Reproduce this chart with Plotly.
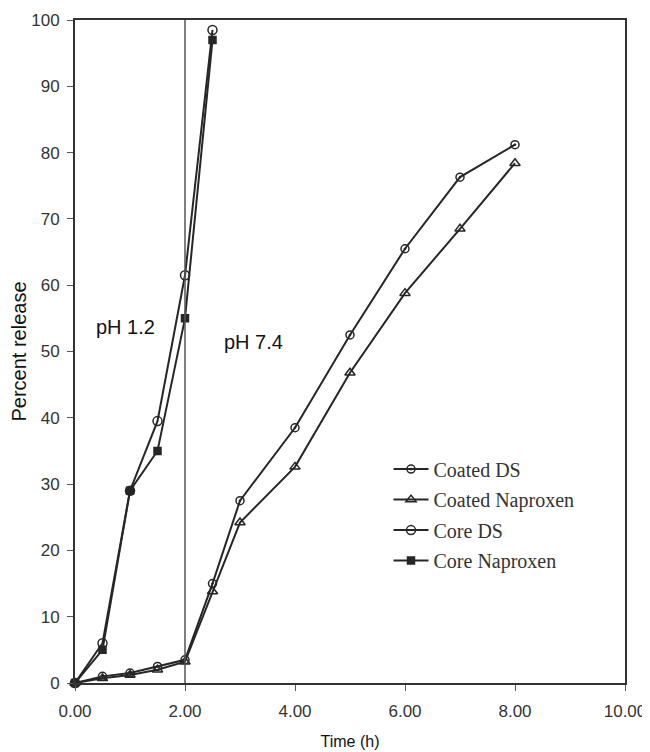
import plotly.graph_objects as go

# ---- data ----
core_time = [0, 0.5, 1, 1.5, 2, 2.5]
core_ds = [0, 6, 29, 39.5, 61.5, 98.5]
core_naproxen = [0, 5, 29, 35, 55, 97]

coated_time = [0, 0.5, 1, 1.5, 2, 2.5, 3, 4, 5, 6, 7, 8]
coated_ds = [0, 1, 1.5, 2.5, 3.5, 15, 27.5, 38.5, 52.5, 65.5, 76.3, 81.2]
coated_naproxen = [0, 0.7, 1.2, 2, 3.2, 13.8, 24.2, 32.6, 46.8, 58.8, 68.5, 78.4]

ph_switch_time = 2.0
ph_labels = ["pH 1.2", "pH 7.4"]
ph_label_x = [0.91, 3.24]
ph_label_y = [53.7, 51.4]

x_ticks = [0, 2, 4, 6, 8, 10]
x_tick_text = ["0.00", "2.00", "4.00", "6.00", "8.00", "10.00"]
y_ticks = list(range(0, 101, 10))

LINE = "#262626"
TEXT = "#333333"

fig = go.Figure()

series = [
    ("Coated DS", coated_time, coated_ds, "circle-open-dot", 8),
    ("Coated Naproxen", coated_time, coated_naproxen, "triangle-up-open", 9),
    ("Core DS", core_time, core_ds, "circle-open", 9),
    ("Core Naproxen", core_time, core_naproxen, "square", 7),
]
for name, xs, ys, sym, sz in series:
    fig.add_trace(go.Scatter(
        x=xs, y=ys, name=name, mode="lines+markers",
        line=dict(color=LINE, width=2),
        marker=dict(symbol=sym, size=sz, color=LINE,
                    line=dict(color=LINE, width=1.5)),
        legendgroup=name, cliponaxis=False,
    ))

fig.add_vline(x=ph_switch_time, line=dict(color="#555555", width=1.5))

for t, xx, yy in zip(ph_labels, ph_label_x, ph_label_y):
    fig.add_annotation(x=xx, y=yy, text=t, showarrow=False,
                       font=dict(family="Liberation Sans, Arial", size=20, color="#111111"))

# the page body adds an 8px offset, so the figure is sized to the remaining space
fig.update_layout(
    width=642, height=744,
    margin=dict(l=67, r=25, t=12, b=69),
    paper_bgcolor="white", plot_bgcolor="white",
    showlegend=True,
    legend=dict(x=0.57, y=0.352, xanchor="left", yanchor="top",
                font=dict(family="Liberation Serif, Times New Roman", size=20, color=TEXT),
                bgcolor="rgba(255,255,255,0)", tracegroupgap=1.5, itemwidth=35),
    font=dict(family="Liberation Sans, Arial", color=TEXT),
)
fig.update_xaxes(
    range=[0, 10], tickvals=x_ticks, ticktext=x_tick_text, automargin=False,
    showgrid=False, zeroline=False, showline=True, mirror=True,
    linecolor="#333333", linewidth=2, ticks="outside", ticklen=6, tickcolor="#555555",
    tickfont=dict(size=17, color=TEXT), ticklabelstandoff=6,
    title=dict(text="Time (h)", font=dict(size=16, color="#111111"), standoff=15),
)
fig.update_yaxes(
    range=[0, 100], tickvals=y_ticks, automargin=False,
    showgrid=False, zeroline=False, showline=True, mirror=True,
    linecolor="#333333", linewidth=2, ticks="outside", ticklen=6, tickcolor="#555555",
    tickfont=dict(size=17, color=TEXT), ticklabelstandoff=4,
    title=dict(text="Percent release", font=dict(size=20, color="#111111"), standoff=0),
)

fig.write_html("out.html")
